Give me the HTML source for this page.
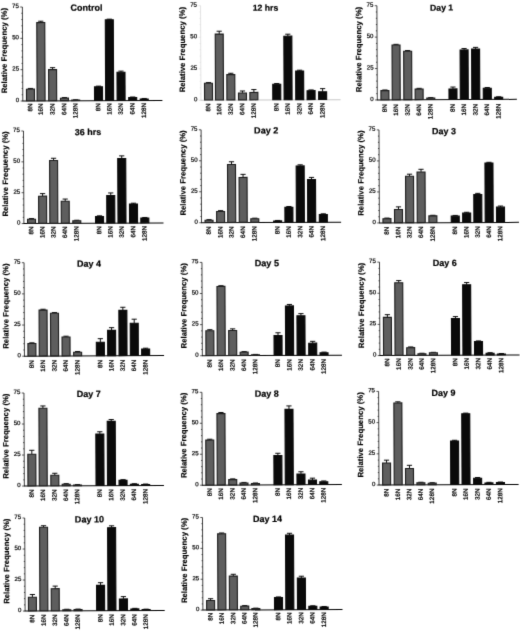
<!DOCTYPE html>
<html><head><meta charset="utf-8"><title>Relative Frequency</title>
<style>html,body{margin:0;padding:0;background:#fff}svg{display:block;filter:url(#bl)}text{text-rendering:geometricPrecision}</style></head>
<body><svg width="520" height="632" viewBox="0 0 520 632" font-family="Liberation Sans, sans-serif">
<defs><filter id="bl" x="0" y="0" width="520" height="632" filterUnits="userSpaceOnUse" color-interpolation-filters="sRGB"><feConvolveMatrix order="3" kernelMatrix="0.0113 0.0838 0.0113 0.0838 0.6194 0.0838 0.0113 0.0838 0.0113" edgeMode="duplicate" preserveAlpha="true"/></filter></defs>
<rect width="520" height="632" fill="#fff"/>
<g transform="rotate(-0.25 92.6 53.7)"><path d="M22.60 6.70V100.70" stroke="#111" stroke-width="0.8" fill="none"/><path d="M20.40 100.70H22.60M21.50 94.43H22.60M21.50 88.17H22.60M21.50 81.90H22.60M21.50 75.63H22.60M20.40 69.37H22.60M21.50 63.10H22.60M21.50 56.83H22.60M21.50 50.57H22.60M21.50 44.30H22.60M20.40 38.03H22.60M21.50 31.77H22.60M21.50 25.50H22.60M21.50 19.23H22.60M21.50 12.97H22.60M20.40 6.70H22.60" stroke="#111" stroke-width="0.7" fill="none"/><path d="M22.20 100.70H162.20" stroke="#000" stroke-width="1.0" fill="none"/><text x="19.00" y="101.60" font-size="6.1" text-anchor="end" fill="#000" stroke="#000" stroke-width="0.2">0</text><text x="19.00" y="70.27" font-size="6.1" text-anchor="end" fill="#000" stroke="#000" stroke-width="0.2">25</text><text x="19.00" y="38.93" font-size="6.1" text-anchor="end" fill="#000" stroke="#000" stroke-width="0.2">50</text><text x="19.00" y="7.60" font-size="6.1" text-anchor="end" fill="#000" stroke="#000" stroke-width="0.2">75</text><text transform="translate(6.80 50.30) rotate(-90)" font-size="7.75" font-weight="bold" text-anchor="middle" fill="#000" stroke="#000" stroke-width="0.15">Relative Frequency (%)</text><text x="86.70" y="10.70" font-size="9.0" font-weight="bold" text-anchor="middle" fill="#000" stroke="#000" stroke-width="0.2">Control</text><path d="M30.30 88.79V88.17M27.70 88.17H32.90" stroke="#000" stroke-width="0.95" fill="none"/><rect x="26.30" y="88.89" width="8.00" height="11.61" fill="#5e5e5e" stroke="#1c1c1c" stroke-width="1.1"/><text transform="translate(32.00 103.20) rotate(-90)" font-size="6.3" text-anchor="end" fill="#000" stroke="#000" stroke-width="0.25">8N</text><path d="M40.90 22.24V20.99M38.30 20.99H43.50" stroke="#000" stroke-width="0.95" fill="none"/><rect x="36.90" y="22.34" width="8.00" height="78.16" fill="#5e5e5e" stroke="#1c1c1c" stroke-width="1.1"/><text transform="translate(42.60 103.20) rotate(-90)" font-size="6.3" text-anchor="end" fill="#000" stroke="#000" stroke-width="0.25">16N</text><path d="M52.50 69.37V67.49M49.90 67.49H55.10" stroke="#000" stroke-width="0.95" fill="none"/><rect x="48.50" y="69.47" width="8.00" height="31.03" fill="#5e5e5e" stroke="#1c1c1c" stroke-width="1.1"/><text transform="translate(54.20 103.20) rotate(-90)" font-size="6.3" text-anchor="end" fill="#000" stroke="#000" stroke-width="0.25">32N</text><path d="M64.25 97.94V97.44M61.65 97.44H66.85" stroke="#000" stroke-width="0.95" fill="none"/><rect x="60.25" y="98.04" width="8.00" height="2.46" fill="#5e5e5e" stroke="#1c1c1c" stroke-width="1.1"/><text transform="translate(65.95 103.20) rotate(-90)" font-size="6.3" text-anchor="end" fill="#000" stroke="#000" stroke-width="0.25">64N</text><path d="M75.50 99.95V99.70M72.90 99.70H78.10" stroke="#000" stroke-width="0.95" fill="none"/><rect x="71.50" y="100.05" width="8.00" height="0.45" fill="#5e5e5e" stroke="#1c1c1c" stroke-width="1.1"/><text transform="translate(77.20 103.20) rotate(-90)" font-size="6.3" text-anchor="end" fill="#000" stroke="#000" stroke-width="0.25">128N</text><path d="M98.35 86.79V86.16M95.75 86.16H100.95" stroke="#000" stroke-width="0.95" fill="none"/><rect x="94.35" y="86.89" width="8.00" height="13.61" fill="#0a0a0a" stroke="#0a0a0a" stroke-width="1.1"/><text transform="translate(100.05 103.20) rotate(-90)" font-size="6.3" text-anchor="end" fill="#000" stroke="#000" stroke-width="0.25">8N</text><path d="M109.45 19.86V19.23M106.85 19.23H112.05" stroke="#000" stroke-width="0.95" fill="none"/><rect x="105.45" y="19.96" width="8.00" height="80.54" fill="#0a0a0a" stroke="#0a0a0a" stroke-width="1.1"/><text transform="translate(111.15 103.20) rotate(-90)" font-size="6.3" text-anchor="end" fill="#000" stroke="#000" stroke-width="0.25">16N</text><path d="M120.90 72.25V71.25M118.30 71.25H123.50" stroke="#000" stroke-width="0.95" fill="none"/><rect x="116.90" y="72.35" width="8.00" height="28.15" fill="#0a0a0a" stroke="#0a0a0a" stroke-width="1.1"/><text transform="translate(122.60 103.20) rotate(-90)" font-size="6.3" text-anchor="end" fill="#000" stroke="#000" stroke-width="0.25">32N</text><path d="M132.50 97.69V97.19M129.90 97.19H135.10" stroke="#000" stroke-width="0.95" fill="none"/><rect x="128.50" y="97.79" width="8.00" height="2.71" fill="#0a0a0a" stroke="#0a0a0a" stroke-width="1.1"/><text transform="translate(134.20 103.20) rotate(-90)" font-size="6.3" text-anchor="end" fill="#000" stroke="#000" stroke-width="0.25">64N</text><path d="M144.00 99.07V98.69M141.40 98.69H146.60" stroke="#000" stroke-width="0.95" fill="none"/><rect x="140.00" y="99.17" width="8.00" height="1.33" fill="#0a0a0a" stroke="#0a0a0a" stroke-width="1.1"/><text transform="translate(145.70 103.20) rotate(-90)" font-size="6.3" text-anchor="end" fill="#000" stroke="#000" stroke-width="0.25">128N</text></g>
<g transform="rotate(-0.25 270.8 52.7)"><path d="M200.75 5.40V99.95" stroke="#dcdcdc" stroke-width="0.8" fill="none"/><path d="M198.55 99.95H200.75M199.65 93.65H200.75M199.65 87.34H200.75M199.65 81.04H200.75M199.65 74.74H200.75M198.55 68.43H200.75M199.65 62.13H200.75M199.65 55.83H200.75M199.65 49.52H200.75M199.65 43.22H200.75M198.55 36.92H200.75M199.65 30.61H200.75M199.65 24.31H200.75M199.65 18.01H200.75M199.65 11.70H200.75M198.55 5.40H200.75" stroke="#dcdcdc" stroke-width="0.7" fill="none"/><path d="M200.35 99.95H340.35" stroke="#c8c8c8" stroke-width="1.0" fill="none"/><text x="197.15" y="100.85" font-size="6.1" text-anchor="end" fill="#000" stroke="#000" stroke-width="0.2">0</text><text x="197.15" y="69.33" font-size="6.1" text-anchor="end" fill="#000" stroke="#000" stroke-width="0.2">25</text><text x="197.15" y="37.82" font-size="6.1" text-anchor="end" fill="#000" stroke="#000" stroke-width="0.2">50</text><text x="197.15" y="6.30" font-size="6.1" text-anchor="end" fill="#000" stroke="#000" stroke-width="0.2">75</text><text transform="translate(184.95 49.28) rotate(-90)" font-size="7.75" font-weight="bold" text-anchor="middle" fill="#000" stroke="#000" stroke-width="0.15">Relative Frequency (%)</text><text x="265.70" y="10.70" font-size="8.7" font-weight="bold" text-anchor="middle" fill="#000" stroke="#000" stroke-width="0.2">12 hrs</text><path d="M208.35 82.93V82.30M205.75 82.30H210.95" stroke="#000" stroke-width="0.95" fill="none"/><rect x="204.35" y="83.03" width="8.00" height="16.72" fill="#5e5e5e" stroke="#1c1c1c" stroke-width="1.1"/><text transform="translate(210.05 103.20) rotate(-90)" font-size="6.3" text-anchor="end" fill="#000" stroke="#000" stroke-width="0.25">8N</text><path d="M219.30 33.77V30.99M216.70 30.99H221.90" stroke="#000" stroke-width="0.95" fill="none"/><rect x="215.30" y="33.87" width="8.00" height="65.89" fill="#5e5e5e" stroke="#1c1c1c" stroke-width="1.1"/><text transform="translate(221.00 103.20) rotate(-90)" font-size="6.3" text-anchor="end" fill="#000" stroke="#000" stroke-width="0.25">16N</text><path d="M230.70 74.36V73.10M228.10 73.10H233.30" stroke="#000" stroke-width="0.95" fill="none"/><rect x="226.70" y="74.46" width="8.00" height="25.29" fill="#5e5e5e" stroke="#1c1c1c" stroke-width="1.1"/><text transform="translate(232.40 103.20) rotate(-90)" font-size="6.3" text-anchor="end" fill="#000" stroke="#000" stroke-width="0.25">32N</text><path d="M242.30 92.76V90.87M239.70 90.87H244.90" stroke="#000" stroke-width="0.95" fill="none"/><rect x="238.30" y="92.86" width="8.00" height="6.89" fill="#5e5e5e" stroke="#1c1c1c" stroke-width="1.1"/><text transform="translate(244.00 103.20) rotate(-90)" font-size="6.3" text-anchor="end" fill="#000" stroke="#000" stroke-width="0.25">64N</text><path d="M253.70 92.26V89.49M251.10 89.49H256.30" stroke="#000" stroke-width="0.95" fill="none"/><rect x="249.70" y="92.36" width="8.00" height="7.39" fill="#5e5e5e" stroke="#1c1c1c" stroke-width="1.1"/><text transform="translate(255.40 103.20) rotate(-90)" font-size="6.3" text-anchor="end" fill="#000" stroke="#000" stroke-width="0.25">128N</text><path d="M276.60 84.19V83.56M274.00 83.56H279.20" stroke="#000" stroke-width="0.95" fill="none"/><rect x="272.60" y="84.29" width="8.00" height="15.46" fill="#0a0a0a" stroke="#0a0a0a" stroke-width="1.1"/><text transform="translate(278.30 103.20) rotate(-90)" font-size="6.3" text-anchor="end" fill="#000" stroke="#000" stroke-width="0.25">8N</text><path d="M287.90 36.16V34.27M285.30 34.27H290.50" stroke="#000" stroke-width="0.95" fill="none"/><rect x="283.90" y="36.26" width="8.00" height="63.49" fill="#0a0a0a" stroke="#0a0a0a" stroke-width="1.1"/><text transform="translate(289.60 103.20) rotate(-90)" font-size="6.3" text-anchor="end" fill="#000" stroke="#000" stroke-width="0.25">16N</text><path d="M299.55 71.08V70.32M296.95 70.32H302.15" stroke="#000" stroke-width="0.95" fill="none"/><rect x="295.55" y="71.18" width="8.00" height="28.57" fill="#0a0a0a" stroke="#0a0a0a" stroke-width="1.1"/><text transform="translate(301.25 103.20) rotate(-90)" font-size="6.3" text-anchor="end" fill="#000" stroke="#000" stroke-width="0.25">32N</text><path d="M310.90 90.75V90.12M308.30 90.12H313.50" stroke="#000" stroke-width="0.95" fill="none"/><rect x="306.90" y="90.85" width="8.00" height="8.90" fill="#0a0a0a" stroke="#0a0a0a" stroke-width="1.1"/><text transform="translate(312.60 103.20) rotate(-90)" font-size="6.3" text-anchor="end" fill="#000" stroke="#000" stroke-width="0.25">64N</text><path d="M322.45 91.88V88.86M319.85 88.86H325.05" stroke="#000" stroke-width="0.95" fill="none"/><rect x="318.45" y="91.98" width="8.00" height="7.77" fill="#0a0a0a" stroke="#0a0a0a" stroke-width="1.1"/><text transform="translate(324.15 103.20) rotate(-90)" font-size="6.3" text-anchor="end" fill="#000" stroke="#000" stroke-width="0.25">128N</text></g>
<g transform="rotate(-0.25 447.1 52.5)"><path d="M377.10 5.40V99.65" stroke="#111" stroke-width="0.8" fill="none"/><path d="M374.90 99.65H377.10M376.00 93.37H377.10M376.00 87.08H377.10M376.00 80.80H377.10M376.00 74.52H377.10M374.90 68.23H377.10M376.00 61.95H377.10M376.00 55.67H377.10M376.00 49.38H377.10M376.00 43.10H377.10M374.90 36.82H377.10M376.00 30.53H377.10M376.00 24.25H377.10M376.00 17.97H377.10M376.00 11.68H377.10M374.90 5.40H377.10" stroke="#111" stroke-width="0.7" fill="none"/><path d="M376.70 99.65H516.70" stroke="#000" stroke-width="1.0" fill="none"/><text x="373.50" y="100.55" font-size="6.1" text-anchor="end" fill="#000" stroke="#000" stroke-width="0.2">0</text><text x="373.50" y="69.13" font-size="6.1" text-anchor="end" fill="#000" stroke="#000" stroke-width="0.2">25</text><text x="373.50" y="37.72" font-size="6.1" text-anchor="end" fill="#000" stroke="#000" stroke-width="0.2">50</text><text x="373.50" y="6.30" font-size="6.1" text-anchor="end" fill="#000" stroke="#000" stroke-width="0.2">75</text><text transform="translate(361.30 49.13) rotate(-90)" font-size="7.75" font-weight="bold" text-anchor="middle" fill="#000" stroke="#000" stroke-width="0.15">Relative Frequency (%)</text><text x="441.80" y="10.60" font-size="8.7" font-weight="bold" text-anchor="middle" fill="#000" stroke="#000" stroke-width="0.2">Day 1</text><path d="M384.75 90.23V89.72M382.15 89.72H387.35" stroke="#000" stroke-width="0.95" fill="none"/><rect x="380.75" y="90.33" width="8.00" height="9.12" fill="#5e5e5e" stroke="#1c1c1c" stroke-width="1.1"/><text transform="translate(386.45 104.00) rotate(-90)" font-size="6.3" text-anchor="end" fill="#000" stroke="#000" stroke-width="0.25">8N</text><path d="M396.05 44.73V44.11M393.45 44.11H398.65" stroke="#000" stroke-width="0.95" fill="none"/><rect x="392.05" y="44.83" width="8.00" height="54.62" fill="#5e5e5e" stroke="#1c1c1c" stroke-width="1.1"/><text transform="translate(397.75 104.00) rotate(-90)" font-size="6.3" text-anchor="end" fill="#000" stroke="#000" stroke-width="0.25">16N</text><path d="M407.65 51.02V50.39M405.05 50.39H410.25" stroke="#000" stroke-width="0.95" fill="none"/><rect x="403.65" y="51.12" width="8.00" height="48.33" fill="#5e5e5e" stroke="#1c1c1c" stroke-width="1.1"/><text transform="translate(409.35 104.00) rotate(-90)" font-size="6.3" text-anchor="end" fill="#000" stroke="#000" stroke-width="0.25">32N</text><path d="M418.95 88.84V88.21M416.35 88.21H421.55" stroke="#000" stroke-width="0.95" fill="none"/><rect x="414.95" y="88.94" width="8.00" height="10.51" fill="#5e5e5e" stroke="#1c1c1c" stroke-width="1.1"/><text transform="translate(420.65 104.00) rotate(-90)" font-size="6.3" text-anchor="end" fill="#000" stroke="#000" stroke-width="0.25">64N</text><path d="M430.60 97.89V97.51M428.00 97.51H433.20" stroke="#000" stroke-width="0.95" fill="none"/><rect x="426.60" y="97.99" width="8.00" height="1.46" fill="#5e5e5e" stroke="#1c1c1c" stroke-width="1.1"/><text transform="translate(432.30 104.00) rotate(-90)" font-size="6.3" text-anchor="end" fill="#000" stroke="#000" stroke-width="0.25">128N</text><path d="M452.80 88.84V87.08M450.20 87.08H455.40" stroke="#000" stroke-width="0.95" fill="none"/><rect x="448.80" y="88.94" width="8.00" height="10.51" fill="#0a0a0a" stroke="#0a0a0a" stroke-width="1.1"/><text transform="translate(454.50 104.00) rotate(-90)" font-size="6.3" text-anchor="end" fill="#000" stroke="#000" stroke-width="0.25">8N</text><path d="M464.10 49.89V48.63M461.50 48.63H466.70" stroke="#000" stroke-width="0.95" fill="none"/><rect x="460.10" y="49.99" width="8.00" height="49.46" fill="#0a0a0a" stroke="#0a0a0a" stroke-width="1.1"/><text transform="translate(465.80 104.00) rotate(-90)" font-size="6.3" text-anchor="end" fill="#000" stroke="#000" stroke-width="0.25">16N</text><path d="M475.60 49.01V47.50M473.00 47.50H478.20" stroke="#000" stroke-width="0.95" fill="none"/><rect x="471.60" y="49.11" width="8.00" height="50.34" fill="#0a0a0a" stroke="#0a0a0a" stroke-width="1.1"/><text transform="translate(477.30 104.00) rotate(-90)" font-size="6.3" text-anchor="end" fill="#000" stroke="#000" stroke-width="0.25">32N</text><path d="M487.10 88.34V87.71M484.50 87.71H489.70" stroke="#000" stroke-width="0.95" fill="none"/><rect x="483.10" y="88.44" width="8.00" height="11.01" fill="#0a0a0a" stroke="#0a0a0a" stroke-width="1.1"/><text transform="translate(488.80 104.00) rotate(-90)" font-size="6.3" text-anchor="end" fill="#000" stroke="#000" stroke-width="0.25">64N</text><path d="M498.50 97.51V97.01M495.90 97.01H501.10" stroke="#000" stroke-width="0.95" fill="none"/><rect x="494.50" y="97.61" width="8.00" height="1.84" fill="#0a0a0a" stroke="#0a0a0a" stroke-width="1.1"/><text transform="translate(500.20 104.00) rotate(-90)" font-size="6.3" text-anchor="end" fill="#000" stroke="#000" stroke-width="0.25">128N</text></g>
<g transform="rotate(-0.25 93.7 177.0)"><path d="M23.70 130.70V223.25" stroke="#111" stroke-width="0.8" fill="none"/><path d="M21.50 223.25H23.70M22.60 217.08H23.70M22.60 210.91H23.70M22.60 204.74H23.70M22.60 198.57H23.70M21.50 192.40H23.70M22.60 186.23H23.70M22.60 180.06H23.70M22.60 173.89H23.70M22.60 167.72H23.70M21.50 161.55H23.70M22.60 155.38H23.70M22.60 149.21H23.70M22.60 143.04H23.70M22.60 136.87H23.70M21.50 130.70H23.70" stroke="#111" stroke-width="0.7" fill="none"/><path d="M23.30 223.25H163.30" stroke="#000" stroke-width="1.0" fill="none"/><text x="20.10" y="224.15" font-size="6.1" text-anchor="end" fill="#000" stroke="#000" stroke-width="0.2">0</text><text x="20.10" y="193.30" font-size="6.1" text-anchor="end" fill="#000" stroke="#000" stroke-width="0.2">25</text><text x="20.10" y="162.45" font-size="6.1" text-anchor="end" fill="#000" stroke="#000" stroke-width="0.2">50</text><text x="20.10" y="131.60" font-size="6.1" text-anchor="end" fill="#000" stroke="#000" stroke-width="0.2">75</text><text transform="translate(7.90 173.57) rotate(-90)" font-size="7.75" font-weight="bold" text-anchor="middle" fill="#000" stroke="#000" stroke-width="0.15">Relative Frequency (%)</text><text x="88.20" y="135.10" font-size="8.95" font-weight="bold" text-anchor="middle" fill="#000" stroke="#000" stroke-width="0.2">36 hrs</text><path d="M31.35 218.93V218.31M28.75 218.31H33.95" stroke="#000" stroke-width="0.95" fill="none"/><rect x="27.35" y="219.03" width="8.00" height="4.02" fill="#5e5e5e" stroke="#1c1c1c" stroke-width="1.1"/><text transform="translate(33.05 226.20) rotate(-90)" font-size="6.3" text-anchor="end" fill="#000" stroke="#000" stroke-width="0.25">8N</text><path d="M42.50 195.86V193.39M39.90 193.39H45.10" stroke="#000" stroke-width="0.95" fill="none"/><rect x="38.50" y="195.96" width="8.00" height="27.09" fill="#5e5e5e" stroke="#1c1c1c" stroke-width="1.1"/><text transform="translate(44.20 226.20) rotate(-90)" font-size="6.3" text-anchor="end" fill="#000" stroke="#000" stroke-width="0.25">16N</text><path d="M53.65 160.19V158.09M51.05 158.09H56.25" stroke="#000" stroke-width="0.95" fill="none"/><rect x="49.65" y="160.29" width="8.00" height="62.76" fill="#5e5e5e" stroke="#1c1c1c" stroke-width="1.1"/><text transform="translate(55.35 226.20) rotate(-90)" font-size="6.3" text-anchor="end" fill="#000" stroke="#000" stroke-width="0.25">32N</text><path d="M65.10 201.04V198.94M62.50 198.94H67.70" stroke="#000" stroke-width="0.95" fill="none"/><rect x="61.10" y="201.14" width="8.00" height="21.91" fill="#5e5e5e" stroke="#1c1c1c" stroke-width="1.1"/><text transform="translate(66.80 226.20) rotate(-90)" font-size="6.3" text-anchor="end" fill="#000" stroke="#000" stroke-width="0.25">64N</text><path d="M76.60 220.66V220.17M74.00 220.17H79.20" stroke="#000" stroke-width="0.95" fill="none"/><rect x="72.60" y="220.76" width="8.00" height="2.29" fill="#5e5e5e" stroke="#1c1c1c" stroke-width="1.1"/><text transform="translate(78.30 226.20) rotate(-90)" font-size="6.3" text-anchor="end" fill="#000" stroke="#000" stroke-width="0.25">128N</text><path d="M99.35 216.46V215.85M96.75 215.85H101.95" stroke="#000" stroke-width="0.95" fill="none"/><rect x="95.35" y="216.56" width="8.00" height="6.49" fill="#0a0a0a" stroke="#0a0a0a" stroke-width="1.1"/><text transform="translate(101.05 226.20) rotate(-90)" font-size="6.3" text-anchor="end" fill="#000" stroke="#000" stroke-width="0.25">8N</text><path d="M110.65 195.48V193.02M108.05 193.02H113.25" stroke="#000" stroke-width="0.95" fill="none"/><rect x="106.65" y="195.58" width="8.00" height="27.47" fill="#0a0a0a" stroke="#0a0a0a" stroke-width="1.1"/><text transform="translate(112.35 226.20) rotate(-90)" font-size="6.3" text-anchor="end" fill="#000" stroke="#000" stroke-width="0.25">16N</text><path d="M121.80 158.59V156.00M119.20 156.00H124.40" stroke="#000" stroke-width="0.95" fill="none"/><rect x="117.80" y="158.69" width="8.00" height="64.36" fill="#0a0a0a" stroke="#0a0a0a" stroke-width="1.1"/><text transform="translate(123.50 226.20) rotate(-90)" font-size="6.3" text-anchor="end" fill="#000" stroke="#000" stroke-width="0.25">32N</text><path d="M133.35 204.12V203.38M130.75 203.38H135.95" stroke="#000" stroke-width="0.95" fill="none"/><rect x="129.35" y="204.22" width="8.00" height="18.83" fill="#0a0a0a" stroke="#0a0a0a" stroke-width="1.1"/><text transform="translate(135.05 226.20) rotate(-90)" font-size="6.3" text-anchor="end" fill="#000" stroke="#000" stroke-width="0.25">64N</text><path d="M144.65 218.19V217.70M142.05 217.70H147.25" stroke="#000" stroke-width="0.95" fill="none"/><rect x="140.65" y="218.29" width="8.00" height="4.76" fill="#0a0a0a" stroke="#0a0a0a" stroke-width="1.1"/><text transform="translate(146.35 226.20) rotate(-90)" font-size="6.3" text-anchor="end" fill="#000" stroke="#000" stroke-width="0.25">128N</text></g>
<g transform="rotate(-0.25 271.3 176.0)"><path d="M201.30 129.50V222.45" stroke="#111" stroke-width="0.8" fill="none"/><path d="M199.10 222.45H201.30M200.20 216.25H201.30M200.20 210.06H201.30M200.20 203.86H201.30M200.20 197.66H201.30M199.10 191.47H201.30M200.20 185.27H201.30M200.20 179.07H201.30M200.20 172.88H201.30M200.20 166.68H201.30M199.10 160.48H201.30M200.20 154.29H201.30M200.20 148.09H201.30M200.20 141.89H201.30M200.20 135.70H201.30M199.10 129.50H201.30" stroke="#111" stroke-width="0.7" fill="none"/><path d="M200.90 222.45H340.90" stroke="#000" stroke-width="1.0" fill="none"/><text x="197.70" y="223.35" font-size="6.1" text-anchor="end" fill="#000" stroke="#000" stroke-width="0.2">0</text><text x="197.70" y="192.37" font-size="6.1" text-anchor="end" fill="#000" stroke="#000" stroke-width="0.2">25</text><text x="197.70" y="161.38" font-size="6.1" text-anchor="end" fill="#000" stroke="#000" stroke-width="0.2">50</text><text x="197.70" y="130.40" font-size="6.1" text-anchor="end" fill="#000" stroke="#000" stroke-width="0.2">75</text><text transform="translate(185.50 172.57) rotate(-90)" font-size="7.75" font-weight="bold" text-anchor="middle" fill="#000" stroke="#000" stroke-width="0.15">Relative Frequency (%)</text><text x="266.40" y="133.55" font-size="9.1" font-weight="bold" text-anchor="middle" fill="#000" stroke="#000" stroke-width="0.2">Day 2</text><path d="M208.85 219.85V219.35M206.25 219.35H211.45" stroke="#000" stroke-width="0.95" fill="none"/><rect x="204.85" y="219.95" width="8.00" height="2.30" fill="#5e5e5e" stroke="#1c1c1c" stroke-width="1.1"/><text transform="translate(210.55 226.20) rotate(-90)" font-size="6.3" text-anchor="end" fill="#000" stroke="#000" stroke-width="0.25">8N</text><path d="M220.45 211.17V210.43M217.85 210.43H223.05" stroke="#000" stroke-width="0.95" fill="none"/><rect x="216.45" y="211.27" width="8.00" height="10.98" fill="#5e5e5e" stroke="#1c1c1c" stroke-width="1.1"/><text transform="translate(222.15 226.20) rotate(-90)" font-size="6.3" text-anchor="end" fill="#000" stroke="#000" stroke-width="0.25">16N</text><path d="M231.55 164.20V161.60M228.95 161.60H234.15" stroke="#000" stroke-width="0.95" fill="none"/><rect x="227.55" y="164.30" width="8.00" height="57.95" fill="#5e5e5e" stroke="#1c1c1c" stroke-width="1.1"/><text transform="translate(233.25 226.20) rotate(-90)" font-size="6.3" text-anchor="end" fill="#000" stroke="#000" stroke-width="0.25">32N</text><path d="M243.05 177.21V174.24M240.45 174.24H245.65" stroke="#000" stroke-width="0.95" fill="none"/><rect x="239.05" y="177.31" width="8.00" height="44.94" fill="#5e5e5e" stroke="#1c1c1c" stroke-width="1.1"/><text transform="translate(244.75 226.20) rotate(-90)" font-size="6.3" text-anchor="end" fill="#000" stroke="#000" stroke-width="0.25">64N</text><path d="M254.60 218.61V218.11M252.00 218.11H257.20" stroke="#000" stroke-width="0.95" fill="none"/><rect x="250.60" y="218.71" width="8.00" height="3.54" fill="#5e5e5e" stroke="#1c1c1c" stroke-width="1.1"/><text transform="translate(256.30 226.20) rotate(-90)" font-size="6.3" text-anchor="end" fill="#000" stroke="#000" stroke-width="0.25">128N</text><path d="M277.45 220.84V220.47M274.85 220.47H280.05" stroke="#000" stroke-width="0.95" fill="none"/><rect x="273.45" y="220.94" width="8.00" height="1.31" fill="#0a0a0a" stroke="#0a0a0a" stroke-width="1.1"/><text transform="translate(279.15 226.20) rotate(-90)" font-size="6.3" text-anchor="end" fill="#000" stroke="#000" stroke-width="0.25">8N</text><path d="M288.75 207.33V206.59M286.15 206.59H291.35" stroke="#000" stroke-width="0.95" fill="none"/><rect x="284.75" y="207.43" width="8.00" height="14.82" fill="#0a0a0a" stroke="#0a0a0a" stroke-width="1.1"/><text transform="translate(290.45 226.20) rotate(-90)" font-size="6.3" text-anchor="end" fill="#000" stroke="#000" stroke-width="0.25">16N</text><path d="M300.20 165.94V164.94M297.60 164.94H302.80" stroke="#000" stroke-width="0.95" fill="none"/><rect x="296.20" y="166.04" width="8.00" height="56.21" fill="#0a0a0a" stroke="#0a0a0a" stroke-width="1.1"/><text transform="translate(301.90 226.20) rotate(-90)" font-size="6.3" text-anchor="end" fill="#000" stroke="#000" stroke-width="0.25">32N</text><path d="M311.50 179.57V177.59M308.90 177.59H314.10" stroke="#000" stroke-width="0.95" fill="none"/><rect x="307.50" y="179.67" width="8.00" height="42.58" fill="#0a0a0a" stroke="#0a0a0a" stroke-width="1.1"/><text transform="translate(313.20 226.20) rotate(-90)" font-size="6.3" text-anchor="end" fill="#000" stroke="#000" stroke-width="0.25">64N</text><path d="M323.15 214.64V214.02M320.55 214.02H325.75" stroke="#000" stroke-width="0.95" fill="none"/><rect x="319.15" y="214.74" width="8.00" height="7.51" fill="#0a0a0a" stroke="#0a0a0a" stroke-width="1.1"/><text transform="translate(324.85 226.20) rotate(-90)" font-size="6.3" text-anchor="end" fill="#000" stroke="#000" stroke-width="0.25">128N</text></g>
<g transform="rotate(-0.25 449.2 176.1)"><path d="M379.20 129.60V222.65" stroke="#111" stroke-width="0.8" fill="none"/><path d="M377.00 222.65H379.20M378.10 216.45H379.20M378.10 210.24H379.20M378.10 204.04H379.20M378.10 197.84H379.20M377.00 191.63H379.20M378.10 185.43H379.20M378.10 179.23H379.20M378.10 173.02H379.20M378.10 166.82H379.20M377.00 160.62H379.20M378.10 154.41H379.20M378.10 148.21H379.20M378.10 142.01H379.20M378.10 135.80H379.20M377.00 129.60H379.20" stroke="#111" stroke-width="0.7" fill="none"/><path d="M378.80 222.65H518.80" stroke="#000" stroke-width="1.0" fill="none"/><text x="375.60" y="223.55" font-size="6.1" text-anchor="end" fill="#000" stroke="#000" stroke-width="0.2">0</text><text x="375.60" y="192.53" font-size="6.1" text-anchor="end" fill="#000" stroke="#000" stroke-width="0.2">25</text><text x="375.60" y="161.52" font-size="6.1" text-anchor="end" fill="#000" stroke="#000" stroke-width="0.2">50</text><text x="375.60" y="130.50" font-size="6.1" text-anchor="end" fill="#000" stroke="#000" stroke-width="0.2">75</text><text transform="translate(363.40 172.72) rotate(-90)" font-size="7.75" font-weight="bold" text-anchor="middle" fill="#000" stroke="#000" stroke-width="0.15">Relative Frequency (%)</text><text x="444.20" y="134.20" font-size="8.95" font-weight="bold" text-anchor="middle" fill="#000" stroke="#000" stroke-width="0.2">Day 3</text><path d="M386.75 218.31V217.81M384.15 217.81H389.35" stroke="#000" stroke-width="0.95" fill="none"/><rect x="382.75" y="218.41" width="8.00" height="4.04" fill="#5e5e5e" stroke="#1c1c1c" stroke-width="1.1"/><text transform="translate(388.45 226.40) rotate(-90)" font-size="6.3" text-anchor="end" fill="#000" stroke="#000" stroke-width="0.25">8N</text><path d="M398.35 209.13V206.65M395.75 206.65H400.95" stroke="#000" stroke-width="0.95" fill="none"/><rect x="394.35" y="209.23" width="8.00" height="13.22" fill="#5e5e5e" stroke="#1c1c1c" stroke-width="1.1"/><text transform="translate(400.05 226.40) rotate(-90)" font-size="6.3" text-anchor="end" fill="#000" stroke="#000" stroke-width="0.25">16N</text><path d="M409.55 176.00V174.02M406.95 174.02H412.15" stroke="#000" stroke-width="0.95" fill="none"/><rect x="405.55" y="176.10" width="8.00" height="46.35" fill="#5e5e5e" stroke="#1c1c1c" stroke-width="1.1"/><text transform="translate(411.25 226.40) rotate(-90)" font-size="6.3" text-anchor="end" fill="#000" stroke="#000" stroke-width="0.25">32N</text><path d="M421.05 171.78V169.18M418.45 169.18H423.65" stroke="#000" stroke-width="0.95" fill="none"/><rect x="417.05" y="171.88" width="8.00" height="50.57" fill="#5e5e5e" stroke="#1c1c1c" stroke-width="1.1"/><text transform="translate(422.75 226.40) rotate(-90)" font-size="6.3" text-anchor="end" fill="#000" stroke="#000" stroke-width="0.25">64N</text><path d="M432.70 215.70V215.21M430.10 215.21H435.30" stroke="#000" stroke-width="0.95" fill="none"/><rect x="428.70" y="215.80" width="8.00" height="6.65" fill="#5e5e5e" stroke="#1c1c1c" stroke-width="1.1"/><text transform="translate(434.40 226.40) rotate(-90)" font-size="6.3" text-anchor="end" fill="#000" stroke="#000" stroke-width="0.25">128N</text><path d="M455.05 216.07V215.45M452.45 215.45H457.65" stroke="#000" stroke-width="0.95" fill="none"/><rect x="451.05" y="216.17" width="8.00" height="6.28" fill="#0a0a0a" stroke="#0a0a0a" stroke-width="1.1"/><text transform="translate(456.75 226.40) rotate(-90)" font-size="6.3" text-anchor="end" fill="#000" stroke="#000" stroke-width="0.25">8N</text><path d="M466.50 213.10V212.35M463.90 212.35H469.10" stroke="#000" stroke-width="0.95" fill="none"/><rect x="462.50" y="213.20" width="8.00" height="9.25" fill="#0a0a0a" stroke="#0a0a0a" stroke-width="1.1"/><text transform="translate(468.20 226.40) rotate(-90)" font-size="6.3" text-anchor="end" fill="#000" stroke="#000" stroke-width="0.25">16N</text><path d="M477.70 194.49V193.49M475.10 193.49H480.30" stroke="#000" stroke-width="0.95" fill="none"/><rect x="473.70" y="194.59" width="8.00" height="27.86" fill="#0a0a0a" stroke="#0a0a0a" stroke-width="1.1"/><text transform="translate(479.40 226.40) rotate(-90)" font-size="6.3" text-anchor="end" fill="#000" stroke="#000" stroke-width="0.25">32N</text><path d="M489.00 163.10V162.48M486.40 162.48H491.60" stroke="#000" stroke-width="0.95" fill="none"/><rect x="485.00" y="163.20" width="8.00" height="59.25" fill="#0a0a0a" stroke="#0a0a0a" stroke-width="1.1"/><text transform="translate(490.70 226.40) rotate(-90)" font-size="6.3" text-anchor="end" fill="#000" stroke="#000" stroke-width="0.25">64N</text><path d="M500.35 207.27V206.27M497.75 206.27H502.95" stroke="#000" stroke-width="0.95" fill="none"/><rect x="496.35" y="207.37" width="8.00" height="15.08" fill="#0a0a0a" stroke="#0a0a0a" stroke-width="1.1"/><text transform="translate(502.05 226.40) rotate(-90)" font-size="6.3" text-anchor="end" fill="#000" stroke="#000" stroke-width="0.25">128N</text></g>
<g transform="rotate(-0.25 94.2 309.1)"><path d="M24.25 262.40V355.90" stroke="#111" stroke-width="0.8" fill="none"/><path d="M22.05 355.90H24.25M23.15 349.67H24.25M23.15 343.43H24.25M23.15 337.20H24.25M23.15 330.97H24.25M22.05 324.73H24.25M23.15 318.50H24.25M23.15 312.27H24.25M23.15 306.03H24.25M23.15 299.80H24.25M22.05 293.57H24.25M23.15 287.33H24.25M23.15 281.10H24.25M23.15 274.87H24.25M23.15 268.63H24.25M22.05 262.40H24.25" stroke="#111" stroke-width="0.7" fill="none"/><path d="M23.85 355.90H163.85" stroke="#000" stroke-width="1.0" fill="none"/><text x="20.65" y="356.80" font-size="6.1" text-anchor="end" fill="#000" stroke="#000" stroke-width="0.2">0</text><text x="20.65" y="325.63" font-size="6.1" text-anchor="end" fill="#000" stroke="#000" stroke-width="0.2">25</text><text x="20.65" y="294.47" font-size="6.1" text-anchor="end" fill="#000" stroke="#000" stroke-width="0.2">50</text><text x="20.65" y="263.30" font-size="6.1" text-anchor="end" fill="#000" stroke="#000" stroke-width="0.2">75</text><text transform="translate(8.45 305.75) rotate(-90)" font-size="7.75" font-weight="bold" text-anchor="middle" fill="#000" stroke="#000" stroke-width="0.15">Relative Frequency (%)</text><text x="89.10" y="266.75" font-size="9.0" font-weight="bold" text-anchor="middle" fill="#000" stroke="#000" stroke-width="0.2">Day 4</text><path d="M31.75 343.18V342.56M29.15 342.56H34.35" stroke="#000" stroke-width="0.95" fill="none"/><rect x="27.75" y="343.28" width="8.00" height="12.42" fill="#5e5e5e" stroke="#1c1c1c" stroke-width="1.1"/><text transform="translate(33.45 359.85) rotate(-90)" font-size="6.3" text-anchor="end" fill="#000" stroke="#000" stroke-width="0.25">8N</text><path d="M43.05 309.77V309.03M40.45 309.03H45.65" stroke="#000" stroke-width="0.95" fill="none"/><rect x="39.05" y="309.87" width="8.00" height="45.83" fill="#5e5e5e" stroke="#1c1c1c" stroke-width="1.1"/><text transform="translate(44.75 359.85) rotate(-90)" font-size="6.3" text-anchor="end" fill="#000" stroke="#000" stroke-width="0.25">16N</text><path d="M54.45 313.01V312.39M51.85 312.39H57.05" stroke="#000" stroke-width="0.95" fill="none"/><rect x="50.45" y="313.11" width="8.00" height="42.59" fill="#5e5e5e" stroke="#1c1c1c" stroke-width="1.1"/><text transform="translate(56.15 359.85) rotate(-90)" font-size="6.3" text-anchor="end" fill="#000" stroke="#000" stroke-width="0.25">32N</text><path d="M65.90 336.83V336.08M63.30 336.08H68.50" stroke="#000" stroke-width="0.95" fill="none"/><rect x="61.90" y="336.93" width="8.00" height="18.77" fill="#5e5e5e" stroke="#1c1c1c" stroke-width="1.1"/><text transform="translate(67.60 359.85) rotate(-90)" font-size="6.3" text-anchor="end" fill="#000" stroke="#000" stroke-width="0.25">64N</text><path d="M77.45 352.04V351.41M74.85 351.41H80.05" stroke="#000" stroke-width="0.95" fill="none"/><rect x="73.45" y="352.14" width="8.00" height="3.56" fill="#5e5e5e" stroke="#1c1c1c" stroke-width="1.1"/><text transform="translate(79.15 359.85) rotate(-90)" font-size="6.3" text-anchor="end" fill="#000" stroke="#000" stroke-width="0.25">128N</text><path d="M100.20 342.19V338.70M97.60 338.70H102.80" stroke="#000" stroke-width="0.95" fill="none"/><rect x="96.20" y="342.29" width="8.00" height="13.41" fill="#0a0a0a" stroke="#0a0a0a" stroke-width="1.1"/><text transform="translate(101.90 359.85) rotate(-90)" font-size="6.3" text-anchor="end" fill="#000" stroke="#000" stroke-width="0.25">8N</text><path d="M111.50 330.34V327.73M108.90 327.73H114.10" stroke="#000" stroke-width="0.95" fill="none"/><rect x="107.50" y="330.44" width="8.00" height="25.26" fill="#0a0a0a" stroke="#0a0a0a" stroke-width="1.1"/><text transform="translate(113.20 359.85) rotate(-90)" font-size="6.3" text-anchor="end" fill="#000" stroke="#000" stroke-width="0.25">16N</text><path d="M122.85 310.40V307.40M120.25 307.40H125.45" stroke="#000" stroke-width="0.95" fill="none"/><rect x="118.85" y="310.50" width="8.00" height="45.20" fill="#0a0a0a" stroke="#0a0a0a" stroke-width="1.1"/><text transform="translate(124.55 359.85) rotate(-90)" font-size="6.3" text-anchor="end" fill="#000" stroke="#000" stroke-width="0.25">32N</text><path d="M134.15 323.36V319.37M131.55 319.37H136.75" stroke="#000" stroke-width="0.95" fill="none"/><rect x="130.15" y="323.46" width="8.00" height="32.24" fill="#0a0a0a" stroke="#0a0a0a" stroke-width="1.1"/><text transform="translate(135.85 359.85) rotate(-90)" font-size="6.3" text-anchor="end" fill="#000" stroke="#000" stroke-width="0.25">64N</text><path d="M145.45 349.17V348.42M142.85 348.42H148.05" stroke="#000" stroke-width="0.95" fill="none"/><rect x="141.45" y="349.27" width="8.00" height="6.43" fill="#0a0a0a" stroke="#0a0a0a" stroke-width="1.1"/><text transform="translate(147.15 359.85) rotate(-90)" font-size="6.3" text-anchor="end" fill="#000" stroke="#000" stroke-width="0.25">128N</text></g>
<g transform="rotate(-0.25 272.1 308.8)"><path d="M202.15 262.10V355.45" stroke="#111" stroke-width="0.8" fill="none"/><path d="M199.95 355.45H202.15M201.05 349.23H202.15M201.05 343.00H202.15M201.05 336.78H202.15M201.05 330.56H202.15M199.95 324.33H202.15M201.05 318.11H202.15M201.05 311.89H202.15M201.05 305.66H202.15M201.05 299.44H202.15M199.95 293.22H202.15M201.05 286.99H202.15M201.05 280.77H202.15M201.05 274.55H202.15M201.05 268.32H202.15M199.95 262.10H202.15" stroke="#111" stroke-width="0.7" fill="none"/><path d="M201.75 355.45H341.75" stroke="#000" stroke-width="1.0" fill="none"/><text x="198.55" y="356.35" font-size="6.1" text-anchor="end" fill="#000" stroke="#000" stroke-width="0.2">0</text><text x="198.55" y="325.23" font-size="6.1" text-anchor="end" fill="#000" stroke="#000" stroke-width="0.2">25</text><text x="198.55" y="294.12" font-size="6.1" text-anchor="end" fill="#000" stroke="#000" stroke-width="0.2">50</text><text x="198.55" y="263.00" font-size="6.1" text-anchor="end" fill="#000" stroke="#000" stroke-width="0.2">75</text><text transform="translate(186.35 305.38) rotate(-90)" font-size="7.75" font-weight="bold" text-anchor="middle" fill="#000" stroke="#000" stroke-width="0.15">Relative Frequency (%)</text><text x="267.00" y="266.25" font-size="9.15" font-weight="bold" text-anchor="middle" fill="#000" stroke="#000" stroke-width="0.2">Day 5</text><path d="M209.75 330.43V329.44M207.15 329.44H212.35" stroke="#000" stroke-width="0.95" fill="none"/><rect x="205.75" y="330.53" width="8.00" height="24.72" fill="#5e5e5e" stroke="#1c1c1c" stroke-width="1.1"/><text transform="translate(211.45 359.20) rotate(-90)" font-size="6.3" text-anchor="end" fill="#000" stroke="#000" stroke-width="0.25">8N</text><path d="M221.05 286.12V285.50M218.45 285.50H223.65" stroke="#000" stroke-width="0.95" fill="none"/><rect x="217.05" y="286.22" width="8.00" height="69.03" fill="#5e5e5e" stroke="#1c1c1c" stroke-width="1.1"/><text transform="translate(222.75 359.20) rotate(-90)" font-size="6.3" text-anchor="end" fill="#000" stroke="#000" stroke-width="0.25">16N</text><path d="M232.55 330.18V328.69M229.95 328.69H235.15" stroke="#000" stroke-width="0.95" fill="none"/><rect x="228.55" y="330.28" width="8.00" height="24.97" fill="#5e5e5e" stroke="#1c1c1c" stroke-width="1.1"/><text transform="translate(234.25 359.20) rotate(-90)" font-size="6.3" text-anchor="end" fill="#000" stroke="#000" stroke-width="0.25">32N</text><path d="M243.95 351.96V351.47M241.35 351.47H246.55" stroke="#000" stroke-width="0.95" fill="none"/><rect x="239.95" y="352.06" width="8.00" height="3.19" fill="#5e5e5e" stroke="#1c1c1c" stroke-width="1.1"/><text transform="translate(245.65 359.20) rotate(-90)" font-size="6.3" text-anchor="end" fill="#000" stroke="#000" stroke-width="0.25">64N</text><path d="M255.25 354.58V354.33M252.65 354.33H257.85" stroke="#000" stroke-width="0.95" fill="none"/><rect x="251.25" y="354.68" width="8.00" height="0.57" fill="#5e5e5e" stroke="#1c1c1c" stroke-width="1.1"/><text transform="translate(256.95 359.20) rotate(-90)" font-size="6.3" text-anchor="end" fill="#000" stroke="#000" stroke-width="0.25">128N</text><path d="M277.90 335.41V332.80M275.30 332.80H280.50" stroke="#000" stroke-width="0.95" fill="none"/><rect x="273.90" y="335.51" width="8.00" height="19.74" fill="#0a0a0a" stroke="#0a0a0a" stroke-width="1.1"/><text transform="translate(279.60 359.20) rotate(-90)" font-size="6.3" text-anchor="end" fill="#000" stroke="#000" stroke-width="0.25">8N</text><path d="M289.45 305.91V304.54M286.85 304.54H292.05" stroke="#000" stroke-width="0.95" fill="none"/><rect x="285.45" y="306.01" width="8.00" height="49.24" fill="#0a0a0a" stroke="#0a0a0a" stroke-width="1.1"/><text transform="translate(291.15 359.20) rotate(-90)" font-size="6.3" text-anchor="end" fill="#000" stroke="#000" stroke-width="0.25">16N</text><path d="M300.90 315.87V313.75M298.30 313.75H303.50" stroke="#000" stroke-width="0.95" fill="none"/><rect x="296.90" y="315.97" width="8.00" height="39.28" fill="#0a0a0a" stroke="#0a0a0a" stroke-width="1.1"/><text transform="translate(302.60 359.20) rotate(-90)" font-size="6.3" text-anchor="end" fill="#000" stroke="#000" stroke-width="0.25">32N</text><path d="M312.55 343.25V341.51M309.95 341.51H315.15" stroke="#000" stroke-width="0.95" fill="none"/><rect x="308.55" y="343.35" width="8.00" height="11.90" fill="#0a0a0a" stroke="#0a0a0a" stroke-width="1.1"/><text transform="translate(314.25 359.20) rotate(-90)" font-size="6.3" text-anchor="end" fill="#000" stroke="#000" stroke-width="0.25">64N</text><path d="M323.85 352.84V352.34M321.25 352.34H326.45" stroke="#000" stroke-width="0.95" fill="none"/><rect x="319.85" y="352.94" width="8.00" height="2.31" fill="#0a0a0a" stroke="#0a0a0a" stroke-width="1.1"/><text transform="translate(325.55 359.20) rotate(-90)" font-size="6.3" text-anchor="end" fill="#000" stroke="#000" stroke-width="0.25">128N</text></g>
<g transform="rotate(-0.25 449.7 308.5)"><path d="M379.70 261.80V355.25" stroke="#111" stroke-width="0.8" fill="none"/><path d="M377.50 355.25H379.70M378.60 349.02H379.70M378.60 342.79H379.70M378.60 336.56H379.70M378.60 330.33H379.70M377.50 324.10H379.70M378.60 317.87H379.70M378.60 311.64H379.70M378.60 305.41H379.70M378.60 299.18H379.70M377.50 292.95H379.70M378.60 286.72H379.70M378.60 280.49H379.70M378.60 274.26H379.70M378.60 268.03H379.70M377.50 261.80H379.70" stroke="#111" stroke-width="0.7" fill="none"/><path d="M379.30 355.25H519.30" stroke="#000" stroke-width="1.0" fill="none"/><text x="376.10" y="356.15" font-size="6.1" text-anchor="end" fill="#000" stroke="#000" stroke-width="0.2">0</text><text x="376.10" y="325.00" font-size="6.1" text-anchor="end" fill="#000" stroke="#000" stroke-width="0.2">25</text><text x="376.10" y="293.85" font-size="6.1" text-anchor="end" fill="#000" stroke="#000" stroke-width="0.2">50</text><text x="376.10" y="262.70" font-size="6.1" text-anchor="end" fill="#000" stroke="#000" stroke-width="0.2">75</text><text transform="translate(363.90 305.12) rotate(-90)" font-size="7.75" font-weight="bold" text-anchor="middle" fill="#000" stroke="#000" stroke-width="0.15">Relative Frequency (%)</text><text x="444.95" y="266.05" font-size="9.05" font-weight="bold" text-anchor="middle" fill="#000" stroke="#000" stroke-width="0.2">Day 6</text><path d="M387.35 317.00V314.38M384.75 314.38H389.95" stroke="#000" stroke-width="0.95" fill="none"/><rect x="383.35" y="317.10" width="8.00" height="37.95" fill="#5e5e5e" stroke="#1c1c1c" stroke-width="1.1"/><text transform="translate(389.05 358.10) rotate(-90)" font-size="6.3" text-anchor="end" fill="#000" stroke="#000" stroke-width="0.25">8N</text><path d="M398.85 282.48V280.37M396.25 280.37H401.45" stroke="#000" stroke-width="0.95" fill="none"/><rect x="394.85" y="282.58" width="8.00" height="72.47" fill="#5e5e5e" stroke="#1c1c1c" stroke-width="1.1"/><text transform="translate(400.55 358.10) rotate(-90)" font-size="6.3" text-anchor="end" fill="#000" stroke="#000" stroke-width="0.25">16N</text><path d="M410.50 347.40V346.78M407.90 346.78H413.10" stroke="#000" stroke-width="0.95" fill="none"/><rect x="406.50" y="347.50" width="8.00" height="7.55" fill="#5e5e5e" stroke="#1c1c1c" stroke-width="1.1"/><text transform="translate(412.20 358.10) rotate(-90)" font-size="6.3" text-anchor="end" fill="#000" stroke="#000" stroke-width="0.25">32N</text><path d="M421.75 353.51V353.13M419.15 353.13H424.35" stroke="#000" stroke-width="0.95" fill="none"/><rect x="417.75" y="353.61" width="8.00" height="1.44" fill="#5e5e5e" stroke="#1c1c1c" stroke-width="1.1"/><text transform="translate(423.45 358.10) rotate(-90)" font-size="6.3" text-anchor="end" fill="#000" stroke="#000" stroke-width="0.25">64N</text><path d="M433.20 352.63V352.26M430.60 352.26H435.80" stroke="#000" stroke-width="0.95" fill="none"/><rect x="429.20" y="352.73" width="8.00" height="2.32" fill="#5e5e5e" stroke="#1c1c1c" stroke-width="1.1"/><text transform="translate(434.90 358.10) rotate(-90)" font-size="6.3" text-anchor="end" fill="#000" stroke="#000" stroke-width="0.25">128N</text><path d="M455.40 318.37V316.62M452.80 316.62H458.00" stroke="#000" stroke-width="0.95" fill="none"/><rect x="451.40" y="318.47" width="8.00" height="36.58" fill="#0a0a0a" stroke="#0a0a0a" stroke-width="1.1"/><text transform="translate(457.10 358.10) rotate(-90)" font-size="6.3" text-anchor="end" fill="#000" stroke="#000" stroke-width="0.25">8N</text><path d="M466.75 284.73V282.61M464.15 282.61H469.35" stroke="#000" stroke-width="0.95" fill="none"/><rect x="462.75" y="284.83" width="8.00" height="70.22" fill="#0a0a0a" stroke="#0a0a0a" stroke-width="1.1"/><text transform="translate(468.45 358.10) rotate(-90)" font-size="6.3" text-anchor="end" fill="#000" stroke="#000" stroke-width="0.25">16N</text><path d="M478.35 341.67V341.05M475.75 341.05H480.95" stroke="#000" stroke-width="0.95" fill="none"/><rect x="474.35" y="341.77" width="8.00" height="13.28" fill="#0a0a0a" stroke="#0a0a0a" stroke-width="1.1"/><text transform="translate(480.05 358.10) rotate(-90)" font-size="6.3" text-anchor="end" fill="#000" stroke="#000" stroke-width="0.25">32N</text><path d="M489.90 353.38V352.88M487.30 352.88H492.50" stroke="#000" stroke-width="0.95" fill="none"/><rect x="485.90" y="353.48" width="8.00" height="1.57" fill="#0a0a0a" stroke="#0a0a0a" stroke-width="1.1"/><text transform="translate(491.60 358.10) rotate(-90)" font-size="6.3" text-anchor="end" fill="#000" stroke="#000" stroke-width="0.25">64N</text><path d="M501.20 354.13V353.75M498.60 353.75H503.80" stroke="#000" stroke-width="0.95" fill="none"/><rect x="497.20" y="354.23" width="8.00" height="0.82" fill="#0a0a0a" stroke="#0a0a0a" stroke-width="1.1"/><text transform="translate(502.90 358.10) rotate(-90)" font-size="6.3" text-anchor="end" fill="#000" stroke="#000" stroke-width="0.25">128N</text></g>
<g transform="rotate(-0.25 94.2 439.2)"><path d="M24.15 392.70V485.75" stroke="#111" stroke-width="0.8" fill="none"/><path d="M21.95 485.75H24.15M23.05 479.55H24.15M23.05 473.34H24.15M23.05 467.14H24.15M23.05 460.94H24.15M21.95 454.73H24.15M23.05 448.53H24.15M23.05 442.33H24.15M23.05 436.12H24.15M23.05 429.92H24.15M21.95 423.72H24.15M23.05 417.51H24.15M23.05 411.31H24.15M23.05 405.11H24.15M23.05 398.90H24.15M21.95 392.70H24.15" stroke="#111" stroke-width="0.7" fill="none"/><path d="M23.75 485.75H163.75" stroke="#000" stroke-width="1.0" fill="none"/><text x="20.55" y="486.65" font-size="6.1" text-anchor="end" fill="#000" stroke="#000" stroke-width="0.2">0</text><text x="20.55" y="455.63" font-size="6.1" text-anchor="end" fill="#000" stroke="#000" stroke-width="0.2">25</text><text x="20.55" y="424.62" font-size="6.1" text-anchor="end" fill="#000" stroke="#000" stroke-width="0.2">50</text><text x="20.55" y="393.60" font-size="6.1" text-anchor="end" fill="#000" stroke="#000" stroke-width="0.2">75</text><text transform="translate(8.35 435.83) rotate(-90)" font-size="7.75" font-weight="bold" text-anchor="middle" fill="#000" stroke="#000" stroke-width="0.15">Relative Frequency (%)</text><text x="89.05" y="396.95" font-size="9.0" font-weight="bold" text-anchor="middle" fill="#000" stroke="#000" stroke-width="0.2">Day 7</text><path d="M31.75 453.86V450.02M29.15 450.02H34.35" stroke="#000" stroke-width="0.95" fill="none"/><rect x="27.75" y="453.96" width="8.00" height="31.59" fill="#5e5e5e" stroke="#1c1c1c" stroke-width="1.1"/><text transform="translate(33.45 489.20) rotate(-90)" font-size="6.3" text-anchor="end" fill="#000" stroke="#000" stroke-width="0.25">8N</text><path d="M43.05 407.96V405.73M40.45 405.73H45.65" stroke="#000" stroke-width="0.95" fill="none"/><rect x="39.05" y="408.06" width="8.00" height="77.49" fill="#5e5e5e" stroke="#1c1c1c" stroke-width="1.1"/><text transform="translate(44.75 489.20) rotate(-90)" font-size="6.3" text-anchor="end" fill="#000" stroke="#000" stroke-width="0.25">16N</text><path d="M54.65 474.96V473.10M52.05 473.10H57.25" stroke="#000" stroke-width="0.95" fill="none"/><rect x="50.65" y="475.06" width="8.00" height="10.49" fill="#5e5e5e" stroke="#1c1c1c" stroke-width="1.1"/><text transform="translate(56.35 489.20) rotate(-90)" font-size="6.3" text-anchor="end" fill="#000" stroke="#000" stroke-width="0.25">32N</text><path d="M66.00 484.01V483.52M63.40 483.52H68.60" stroke="#000" stroke-width="0.95" fill="none"/><rect x="62.00" y="484.11" width="8.00" height="1.44" fill="#5e5e5e" stroke="#1c1c1c" stroke-width="1.1"/><text transform="translate(67.70 489.20) rotate(-90)" font-size="6.3" text-anchor="end" fill="#000" stroke="#000" stroke-width="0.25">64N</text><path d="M77.30 484.88V484.51M74.70 484.51H79.90" stroke="#000" stroke-width="0.95" fill="none"/><rect x="73.30" y="484.98" width="8.00" height="0.57" fill="#5e5e5e" stroke="#1c1c1c" stroke-width="1.1"/><text transform="translate(79.00 489.20) rotate(-90)" font-size="6.3" text-anchor="end" fill="#000" stroke="#000" stroke-width="0.25">128N</text><path d="M99.85 433.89V431.78M97.25 431.78H102.45" stroke="#000" stroke-width="0.95" fill="none"/><rect x="95.85" y="433.99" width="8.00" height="51.56" fill="#0a0a0a" stroke="#0a0a0a" stroke-width="1.1"/><text transform="translate(101.55 489.20) rotate(-90)" font-size="6.3" text-anchor="end" fill="#000" stroke="#000" stroke-width="0.25">8N</text><path d="M111.30 421.36V419.62M108.70 419.62H113.90" stroke="#000" stroke-width="0.95" fill="none"/><rect x="107.30" y="421.46" width="8.00" height="64.09" fill="#0a0a0a" stroke="#0a0a0a" stroke-width="1.1"/><text transform="translate(113.00 489.20) rotate(-90)" font-size="6.3" text-anchor="end" fill="#000" stroke="#000" stroke-width="0.25">16N</text><path d="M122.85 480.42V479.79M120.25 479.79H125.45" stroke="#000" stroke-width="0.95" fill="none"/><rect x="118.85" y="480.52" width="8.00" height="5.03" fill="#0a0a0a" stroke="#0a0a0a" stroke-width="1.1"/><text transform="translate(124.55 489.20) rotate(-90)" font-size="6.3" text-anchor="end" fill="#000" stroke="#000" stroke-width="0.25">32N</text><path d="M134.15 484.39V483.89M131.55 483.89H136.75" stroke="#000" stroke-width="0.95" fill="none"/><rect x="130.15" y="484.49" width="8.00" height="1.06" fill="#0a0a0a" stroke="#0a0a0a" stroke-width="1.1"/><text transform="translate(135.85 489.20) rotate(-90)" font-size="6.3" text-anchor="end" fill="#000" stroke="#000" stroke-width="0.25">64N</text><path d="M145.45 484.63V484.26M142.85 484.26H148.05" stroke="#000" stroke-width="0.95" fill="none"/><rect x="141.45" y="484.73" width="8.00" height="0.82" fill="#0a0a0a" stroke="#0a0a0a" stroke-width="1.1"/><text transform="translate(147.15 489.20) rotate(-90)" font-size="6.3" text-anchor="end" fill="#000" stroke="#000" stroke-width="0.25">128N</text></g>
<g transform="rotate(-0.25 272.1 438.4)"><path d="M202.10 392.00V484.90" stroke="#111" stroke-width="0.8" fill="none"/><path d="M199.90 484.90H202.10M201.00 478.71H202.10M201.00 472.51H202.10M201.00 466.32H202.10M201.00 460.13H202.10M199.90 453.93H202.10M201.00 447.74H202.10M201.00 441.55H202.10M201.00 435.35H202.10M201.00 429.16H202.10M199.90 422.97H202.10M201.00 416.77H202.10M201.00 410.58H202.10M201.00 404.39H202.10M201.00 398.19H202.10M199.90 392.00H202.10" stroke="#111" stroke-width="0.7" fill="none"/><path d="M201.70 484.90H341.70" stroke="#000" stroke-width="1.0" fill="none"/><text x="198.50" y="485.80" font-size="6.1" text-anchor="end" fill="#000" stroke="#000" stroke-width="0.2">0</text><text x="198.50" y="454.83" font-size="6.1" text-anchor="end" fill="#000" stroke="#000" stroke-width="0.2">25</text><text x="198.50" y="423.87" font-size="6.1" text-anchor="end" fill="#000" stroke="#000" stroke-width="0.2">50</text><text x="198.50" y="392.90" font-size="6.1" text-anchor="end" fill="#000" stroke="#000" stroke-width="0.2">75</text><text transform="translate(186.30 435.05) rotate(-90)" font-size="7.75" font-weight="bold" text-anchor="middle" fill="#000" stroke="#000" stroke-width="0.15">Relative Frequency (%)</text><text x="266.90" y="396.80" font-size="9.05" font-weight="bold" text-anchor="middle" fill="#000" stroke="#000" stroke-width="0.2">Day 8</text><path d="M209.75 439.69V438.95M207.15 438.95H212.35" stroke="#000" stroke-width="0.95" fill="none"/><rect x="205.75" y="439.79" width="8.00" height="44.91" fill="#5e5e5e" stroke="#1c1c1c" stroke-width="1.1"/><text transform="translate(211.45 487.90) rotate(-90)" font-size="6.3" text-anchor="end" fill="#000" stroke="#000" stroke-width="0.25">8N</text><path d="M221.05 413.31V412.31M218.45 412.31H223.65" stroke="#000" stroke-width="0.95" fill="none"/><rect x="217.05" y="413.41" width="8.00" height="71.29" fill="#5e5e5e" stroke="#1c1c1c" stroke-width="1.1"/><text transform="translate(222.75 487.90) rotate(-90)" font-size="6.3" text-anchor="end" fill="#000" stroke="#000" stroke-width="0.25">16N</text><path d="M232.55 479.33V478.71M229.95 478.71H235.15" stroke="#000" stroke-width="0.95" fill="none"/><rect x="228.55" y="479.43" width="8.00" height="5.27" fill="#5e5e5e" stroke="#1c1c1c" stroke-width="1.1"/><text transform="translate(234.25 487.90) rotate(-90)" font-size="6.3" text-anchor="end" fill="#000" stroke="#000" stroke-width="0.25">32N</text><path d="M243.80 482.79V482.30M241.20 482.30H246.40" stroke="#000" stroke-width="0.95" fill="none"/><rect x="239.80" y="482.89" width="8.00" height="1.81" fill="#5e5e5e" stroke="#1c1c1c" stroke-width="1.1"/><text transform="translate(245.50 487.90) rotate(-90)" font-size="6.3" text-anchor="end" fill="#000" stroke="#000" stroke-width="0.25">64N</text><path d="M255.25 483.29V482.92M252.65 482.92H257.85" stroke="#000" stroke-width="0.95" fill="none"/><rect x="251.25" y="483.39" width="8.00" height="1.31" fill="#5e5e5e" stroke="#1c1c1c" stroke-width="1.1"/><text transform="translate(256.95 487.90) rotate(-90)" font-size="6.3" text-anchor="end" fill="#000" stroke="#000" stroke-width="0.25">128N</text><path d="M277.80 455.42V453.31M275.20 453.31H280.40" stroke="#000" stroke-width="0.95" fill="none"/><rect x="273.80" y="455.52" width="8.00" height="29.18" fill="#0a0a0a" stroke="#0a0a0a" stroke-width="1.1"/><text transform="translate(279.50 487.90) rotate(-90)" font-size="6.3" text-anchor="end" fill="#000" stroke="#000" stroke-width="0.25">8N</text><path d="M289.10 409.34V406.00M286.50 406.00H291.70" stroke="#000" stroke-width="0.95" fill="none"/><rect x="285.10" y="409.44" width="8.00" height="75.26" fill="#0a0a0a" stroke="#0a0a0a" stroke-width="1.1"/><text transform="translate(290.80 487.90) rotate(-90)" font-size="6.3" text-anchor="end" fill="#000" stroke="#000" stroke-width="0.25">16N</text><path d="M300.80 474.00V471.89M298.20 471.89H303.40" stroke="#000" stroke-width="0.95" fill="none"/><rect x="296.80" y="474.10" width="8.00" height="10.60" fill="#0a0a0a" stroke="#0a0a0a" stroke-width="1.1"/><text transform="translate(302.50 487.90) rotate(-90)" font-size="6.3" text-anchor="end" fill="#000" stroke="#000" stroke-width="0.25">32N</text><path d="M312.30 480.19V478.34M309.70 478.34H314.90" stroke="#000" stroke-width="0.95" fill="none"/><rect x="308.30" y="480.29" width="8.00" height="4.41" fill="#0a0a0a" stroke="#0a0a0a" stroke-width="1.1"/><text transform="translate(314.00 487.90) rotate(-90)" font-size="6.3" text-anchor="end" fill="#000" stroke="#000" stroke-width="0.25">64N</text><path d="M323.60 481.93V481.18M321.00 481.18H326.20" stroke="#000" stroke-width="0.95" fill="none"/><rect x="319.60" y="482.03" width="8.00" height="2.67" fill="#0a0a0a" stroke="#0a0a0a" stroke-width="1.1"/><text transform="translate(325.30 487.90) rotate(-90)" font-size="6.3" text-anchor="end" fill="#000" stroke="#000" stroke-width="0.25">128N</text></g>
<g transform="rotate(-0.25 448.8 437.9)"><path d="M378.80 391.10V484.75" stroke="#111" stroke-width="0.8" fill="none"/><path d="M376.60 484.75H378.80M377.70 478.51H378.80M377.70 472.26H378.80M377.70 466.02H378.80M377.70 459.78H378.80M376.60 453.53H378.80M377.70 447.29H378.80M377.70 441.05H378.80M377.70 434.80H378.80M377.70 428.56H378.80M376.60 422.32H378.80M377.70 416.07H378.80M377.70 409.83H378.80M377.70 403.59H378.80M377.70 397.34H378.80M376.60 391.10H378.80" stroke="#111" stroke-width="0.7" fill="none"/><path d="M378.40 484.75H518.40" stroke="#000" stroke-width="1.0" fill="none"/><text x="375.20" y="485.65" font-size="6.1" text-anchor="end" fill="#000" stroke="#000" stroke-width="0.2">0</text><text x="375.20" y="454.43" font-size="6.1" text-anchor="end" fill="#000" stroke="#000" stroke-width="0.2">25</text><text x="375.20" y="423.22" font-size="6.1" text-anchor="end" fill="#000" stroke="#000" stroke-width="0.2">50</text><text x="375.20" y="392.00" font-size="6.1" text-anchor="end" fill="#000" stroke="#000" stroke-width="0.2">75</text><text transform="translate(363.00 434.53) rotate(-90)" font-size="7.75" font-weight="bold" text-anchor="middle" fill="#000" stroke="#000" stroke-width="0.15">Relative Frequency (%)</text><text x="443.65" y="395.85" font-size="8.95" font-weight="bold" text-anchor="middle" fill="#000" stroke="#000" stroke-width="0.2">Day 9</text><path d="M386.45 462.65V459.90M383.85 459.90H389.05" stroke="#000" stroke-width="0.95" fill="none"/><rect x="382.45" y="462.75" width="8.00" height="21.80" fill="#5e5e5e" stroke="#1c1c1c" stroke-width="1.1"/><text transform="translate(388.15 488.50) rotate(-90)" font-size="6.3" text-anchor="end" fill="#000" stroke="#000" stroke-width="0.25">8N</text><path d="M398.00 402.59V401.59M395.40 401.59H400.60" stroke="#000" stroke-width="0.95" fill="none"/><rect x="394.00" y="402.69" width="8.00" height="81.86" fill="#5e5e5e" stroke="#1c1c1c" stroke-width="1.1"/><text transform="translate(399.70 488.50) rotate(-90)" font-size="6.3" text-anchor="end" fill="#000" stroke="#000" stroke-width="0.25">16N</text><path d="M409.35 468.27V465.15M406.75 465.15H411.95" stroke="#000" stroke-width="0.95" fill="none"/><rect x="405.35" y="468.37" width="8.00" height="16.18" fill="#5e5e5e" stroke="#1c1c1c" stroke-width="1.1"/><text transform="translate(411.05 488.50) rotate(-90)" font-size="6.3" text-anchor="end" fill="#000" stroke="#000" stroke-width="0.25">32N</text><path d="M420.70 482.63V482.13M418.10 482.13H423.30" stroke="#000" stroke-width="0.95" fill="none"/><rect x="416.70" y="482.73" width="8.00" height="1.82" fill="#5e5e5e" stroke="#1c1c1c" stroke-width="1.1"/><text transform="translate(422.40 488.50) rotate(-90)" font-size="6.3" text-anchor="end" fill="#000" stroke="#000" stroke-width="0.25">64N</text><path d="M432.00 483.00V482.63M429.40 482.63H434.60" stroke="#000" stroke-width="0.95" fill="none"/><rect x="428.00" y="483.10" width="8.00" height="1.45" fill="#5e5e5e" stroke="#1c1c1c" stroke-width="1.1"/><text transform="translate(433.70 488.50) rotate(-90)" font-size="6.3" text-anchor="end" fill="#000" stroke="#000" stroke-width="0.25">128N</text><path d="M454.55 440.92V440.30M451.95 440.30H457.15" stroke="#000" stroke-width="0.95" fill="none"/><rect x="450.55" y="441.02" width="8.00" height="43.53" fill="#0a0a0a" stroke="#0a0a0a" stroke-width="1.1"/><text transform="translate(456.25 488.50) rotate(-90)" font-size="6.3" text-anchor="end" fill="#000" stroke="#000" stroke-width="0.25">8N</text><path d="M465.85 413.83V413.20M463.25 413.20H468.45" stroke="#000" stroke-width="0.95" fill="none"/><rect x="461.85" y="413.93" width="8.00" height="70.62" fill="#0a0a0a" stroke="#0a0a0a" stroke-width="1.1"/><text transform="translate(467.55 488.50) rotate(-90)" font-size="6.3" text-anchor="end" fill="#000" stroke="#000" stroke-width="0.25">16N</text><path d="M477.45 478.26V477.63M474.85 477.63H480.05" stroke="#000" stroke-width="0.95" fill="none"/><rect x="473.45" y="478.36" width="8.00" height="6.19" fill="#0a0a0a" stroke="#0a0a0a" stroke-width="1.1"/><text transform="translate(479.15 488.50) rotate(-90)" font-size="6.3" text-anchor="end" fill="#000" stroke="#000" stroke-width="0.25">32N</text><path d="M488.75 483.00V482.50M486.15 482.50H491.35" stroke="#000" stroke-width="0.95" fill="none"/><rect x="484.75" y="483.10" width="8.00" height="1.45" fill="#0a0a0a" stroke="#0a0a0a" stroke-width="1.1"/><text transform="translate(490.45 488.50) rotate(-90)" font-size="6.3" text-anchor="end" fill="#000" stroke="#000" stroke-width="0.25">64N</text><path d="M500.25 482.63V482.25M497.65 482.25H502.85" stroke="#000" stroke-width="0.95" fill="none"/><rect x="496.25" y="482.73" width="8.00" height="1.82" fill="#0a0a0a" stroke="#0a0a0a" stroke-width="1.1"/><text transform="translate(501.95 488.50) rotate(-90)" font-size="6.3" text-anchor="end" fill="#000" stroke="#000" stroke-width="0.25">128N</text></g>
<g transform="rotate(-0.25 94.9 564.2)"><path d="M24.90 517.70V610.75" stroke="#111" stroke-width="0.8" fill="none"/><path d="M22.70 610.75H24.90M23.80 604.55H24.90M23.80 598.34H24.90M23.80 592.14H24.90M23.80 585.94H24.90M22.70 579.73H24.90M23.80 573.53H24.90M23.80 567.33H24.90M23.80 561.12H24.90M23.80 554.92H24.90M22.70 548.72H24.90M23.80 542.51H24.90M23.80 536.31H24.90M23.80 530.11H24.90M23.80 523.90H24.90M22.70 517.70H24.90" stroke="#111" stroke-width="0.7" fill="none"/><path d="M24.50 610.75H164.50" stroke="#000" stroke-width="1.0" fill="none"/><text x="21.30" y="611.65" font-size="6.1" text-anchor="end" fill="#000" stroke="#000" stroke-width="0.2">0</text><text x="21.30" y="580.63" font-size="6.1" text-anchor="end" fill="#000" stroke="#000" stroke-width="0.2">25</text><text x="21.30" y="549.62" font-size="6.1" text-anchor="end" fill="#000" stroke="#000" stroke-width="0.2">50</text><text x="21.30" y="518.60" font-size="6.1" text-anchor="end" fill="#000" stroke="#000" stroke-width="0.2">75</text><text transform="translate(9.10 560.83) rotate(-90)" font-size="7.75" font-weight="bold" text-anchor="middle" fill="#000" stroke="#000" stroke-width="0.15">Relative Frequency (%)</text><text x="89.65" y="522.40" font-size="9.05" font-weight="bold" text-anchor="middle" fill="#000" stroke="#000" stroke-width="0.2">Day 10</text><path d="M32.25 596.85V594.25M29.65 594.25H34.85" stroke="#000" stroke-width="0.95" fill="none"/><rect x="28.25" y="596.95" width="8.00" height="13.60" fill="#5e5e5e" stroke="#1c1c1c" stroke-width="1.1"/><text transform="translate(33.95 614.30) rotate(-90)" font-size="6.3" text-anchor="end" fill="#000" stroke="#000" stroke-width="0.25">8N</text><path d="M43.70 526.88V525.52M41.10 525.52H46.30" stroke="#000" stroke-width="0.95" fill="none"/><rect x="39.70" y="526.98" width="8.00" height="83.57" fill="#5e5e5e" stroke="#1c1c1c" stroke-width="1.1"/><text transform="translate(45.40 614.30) rotate(-90)" font-size="6.3" text-anchor="end" fill="#000" stroke="#000" stroke-width="0.25">16N</text><path d="M55.10 588.42V585.94M52.50 585.94H57.70" stroke="#000" stroke-width="0.95" fill="none"/><rect x="51.10" y="588.52" width="8.00" height="22.03" fill="#5e5e5e" stroke="#1c1c1c" stroke-width="1.1"/><text transform="translate(56.80 614.30) rotate(-90)" font-size="6.3" text-anchor="end" fill="#000" stroke="#000" stroke-width="0.25">32N</text><path d="M66.60 609.51V609.14M64.00 609.14H69.20" stroke="#000" stroke-width="0.95" fill="none"/><rect x="62.60" y="609.61" width="8.00" height="0.94" fill="#5e5e5e" stroke="#1c1c1c" stroke-width="1.1"/><text transform="translate(68.30 614.30) rotate(-90)" font-size="6.3" text-anchor="end" fill="#000" stroke="#000" stroke-width="0.25">64N</text><path d="M77.85 609.39V609.01M75.25 609.01H80.45" stroke="#000" stroke-width="0.95" fill="none"/><rect x="73.85" y="609.49" width="8.00" height="1.06" fill="#5e5e5e" stroke="#1c1c1c" stroke-width="1.1"/><text transform="translate(79.55 614.30) rotate(-90)" font-size="6.3" text-anchor="end" fill="#000" stroke="#000" stroke-width="0.25">128N</text><path d="M100.45 585.32V582.71M97.85 582.71H103.05" stroke="#000" stroke-width="0.95" fill="none"/><rect x="96.45" y="585.42" width="8.00" height="25.13" fill="#0a0a0a" stroke="#0a0a0a" stroke-width="1.1"/><text transform="translate(102.15 614.30) rotate(-90)" font-size="6.3" text-anchor="end" fill="#000" stroke="#000" stroke-width="0.25">8N</text><path d="M111.75 527.63V525.89M109.15 525.89H114.35" stroke="#000" stroke-width="0.95" fill="none"/><rect x="107.75" y="527.73" width="8.00" height="82.82" fill="#0a0a0a" stroke="#0a0a0a" stroke-width="1.1"/><text transform="translate(113.45 614.30) rotate(-90)" font-size="6.3" text-anchor="end" fill="#000" stroke="#000" stroke-width="0.25">16N</text><path d="M123.25 598.96V596.73M120.65 596.73H125.85" stroke="#000" stroke-width="0.95" fill="none"/><rect x="119.25" y="599.06" width="8.00" height="11.49" fill="#0a0a0a" stroke="#0a0a0a" stroke-width="1.1"/><text transform="translate(124.95 614.30) rotate(-90)" font-size="6.3" text-anchor="end" fill="#000" stroke="#000" stroke-width="0.25">32N</text><path d="M134.65 609.01V608.52M132.05 608.52H137.25" stroke="#000" stroke-width="0.95" fill="none"/><rect x="130.65" y="609.11" width="8.00" height="1.44" fill="#0a0a0a" stroke="#0a0a0a" stroke-width="1.1"/><text transform="translate(136.35 614.30) rotate(-90)" font-size="6.3" text-anchor="end" fill="#000" stroke="#000" stroke-width="0.25">64N</text><path d="M145.90 609.76V609.39M143.30 609.39H148.50" stroke="#000" stroke-width="0.95" fill="none"/><rect x="141.90" y="609.86" width="8.00" height="0.69" fill="#0a0a0a" stroke="#0a0a0a" stroke-width="1.1"/><text transform="translate(147.60 614.30) rotate(-90)" font-size="6.3" text-anchor="end" fill="#000" stroke="#000" stroke-width="0.25">128N</text></g>
<g transform="rotate(-0.25 272.7 563.5)"><path d="M202.70 517.20V609.80" stroke="#111" stroke-width="0.8" fill="none"/><path d="M200.50 609.80H202.70M201.60 603.63H202.70M201.60 597.45H202.70M201.60 591.28H202.70M201.60 585.11H202.70M200.50 578.93H202.70M201.60 572.76H202.70M201.60 566.59H202.70M201.60 560.41H202.70M201.60 554.24H202.70M200.50 548.07H202.70M201.60 541.89H202.70M201.60 535.72H202.70M201.60 529.55H202.70M201.60 523.37H202.70M200.50 517.20H202.70" stroke="#111" stroke-width="0.7" fill="none"/><path d="M202.30 609.80H342.30" stroke="#000" stroke-width="1.0" fill="none"/><text x="199.10" y="610.70" font-size="6.1" text-anchor="end" fill="#000" stroke="#000" stroke-width="0.2">0</text><text x="199.10" y="579.83" font-size="6.1" text-anchor="end" fill="#000" stroke="#000" stroke-width="0.2">25</text><text x="199.10" y="548.97" font-size="6.1" text-anchor="end" fill="#000" stroke="#000" stroke-width="0.2">50</text><text x="199.10" y="518.10" font-size="6.1" text-anchor="end" fill="#000" stroke="#000" stroke-width="0.2">75</text><text transform="translate(186.90 560.10) rotate(-90)" font-size="7.75" font-weight="bold" text-anchor="middle" fill="#000" stroke="#000" stroke-width="0.15">Relative Frequency (%)</text><text x="267.75" y="521.90" font-size="9.0" font-weight="bold" text-anchor="middle" fill="#000" stroke="#000" stroke-width="0.2">Day 14</text><path d="M210.45 600.17V598.44M207.85 598.44H213.05" stroke="#000" stroke-width="0.95" fill="none"/><rect x="206.45" y="600.27" width="8.00" height="9.33" fill="#5e5e5e" stroke="#1c1c1c" stroke-width="1.1"/><text transform="translate(212.15 612.40) rotate(-90)" font-size="6.3" text-anchor="end" fill="#000" stroke="#000" stroke-width="0.25">8N</text><path d="M221.75 533.50V532.76M219.15 532.76H224.35" stroke="#000" stroke-width="0.95" fill="none"/><rect x="217.75" y="533.60" width="8.00" height="76.00" fill="#5e5e5e" stroke="#1c1c1c" stroke-width="1.1"/><text transform="translate(223.45 612.40) rotate(-90)" font-size="6.3" text-anchor="end" fill="#000" stroke="#000" stroke-width="0.25">16N</text><path d="M233.25 575.85V574.12M230.65 574.12H235.85" stroke="#000" stroke-width="0.95" fill="none"/><rect x="229.25" y="575.95" width="8.00" height="33.65" fill="#5e5e5e" stroke="#1c1c1c" stroke-width="1.1"/><text transform="translate(234.95 612.40) rotate(-90)" font-size="6.3" text-anchor="end" fill="#000" stroke="#000" stroke-width="0.25">32N</text><path d="M244.55 605.97V605.48M241.95 605.48H247.15" stroke="#000" stroke-width="0.95" fill="none"/><rect x="240.55" y="606.07" width="8.00" height="3.53" fill="#5e5e5e" stroke="#1c1c1c" stroke-width="1.1"/><text transform="translate(246.25 612.40) rotate(-90)" font-size="6.3" text-anchor="end" fill="#000" stroke="#000" stroke-width="0.25">64N</text><path d="M255.65 608.44V608.07M253.05 608.07H258.25" stroke="#000" stroke-width="0.95" fill="none"/><rect x="251.65" y="608.54" width="8.00" height="1.06" fill="#5e5e5e" stroke="#1c1c1c" stroke-width="1.1"/><text transform="translate(257.35 612.40) rotate(-90)" font-size="6.3" text-anchor="end" fill="#000" stroke="#000" stroke-width="0.25">128N</text><path d="M278.35 597.58V596.96M275.75 596.96H280.95" stroke="#000" stroke-width="0.95" fill="none"/><rect x="274.35" y="597.68" width="8.00" height="11.92" fill="#0a0a0a" stroke="#0a0a0a" stroke-width="1.1"/><text transform="translate(280.05 612.40) rotate(-90)" font-size="6.3" text-anchor="end" fill="#000" stroke="#000" stroke-width="0.25">8N</text><path d="M289.65 535.10V533.37M287.05 533.37H292.25" stroke="#000" stroke-width="0.95" fill="none"/><rect x="285.65" y="535.20" width="8.00" height="74.40" fill="#0a0a0a" stroke="#0a0a0a" stroke-width="1.1"/><text transform="translate(291.35 612.40) rotate(-90)" font-size="6.3" text-anchor="end" fill="#000" stroke="#000" stroke-width="0.25">16N</text><path d="M301.30 578.07V576.34M298.70 576.34H303.90" stroke="#000" stroke-width="0.95" fill="none"/><rect x="297.30" y="578.17" width="8.00" height="31.43" fill="#0a0a0a" stroke="#0a0a0a" stroke-width="1.1"/><text transform="translate(303.00 612.40) rotate(-90)" font-size="6.3" text-anchor="end" fill="#000" stroke="#000" stroke-width="0.25">32N</text><path d="M312.65 606.47V605.97M310.05 605.97H315.25" stroke="#000" stroke-width="0.95" fill="none"/><rect x="308.65" y="606.57" width="8.00" height="3.03" fill="#0a0a0a" stroke="#0a0a0a" stroke-width="1.1"/><text transform="translate(314.35 612.40) rotate(-90)" font-size="6.3" text-anchor="end" fill="#000" stroke="#000" stroke-width="0.25">64N</text><path d="M323.95 607.21V606.71M321.35 606.71H326.55" stroke="#000" stroke-width="0.95" fill="none"/><rect x="319.95" y="607.31" width="8.00" height="2.29" fill="#0a0a0a" stroke="#0a0a0a" stroke-width="1.1"/><text transform="translate(325.65 612.40) rotate(-90)" font-size="6.3" text-anchor="end" fill="#000" stroke="#000" stroke-width="0.25">128N</text></g>
</svg></body></html>
